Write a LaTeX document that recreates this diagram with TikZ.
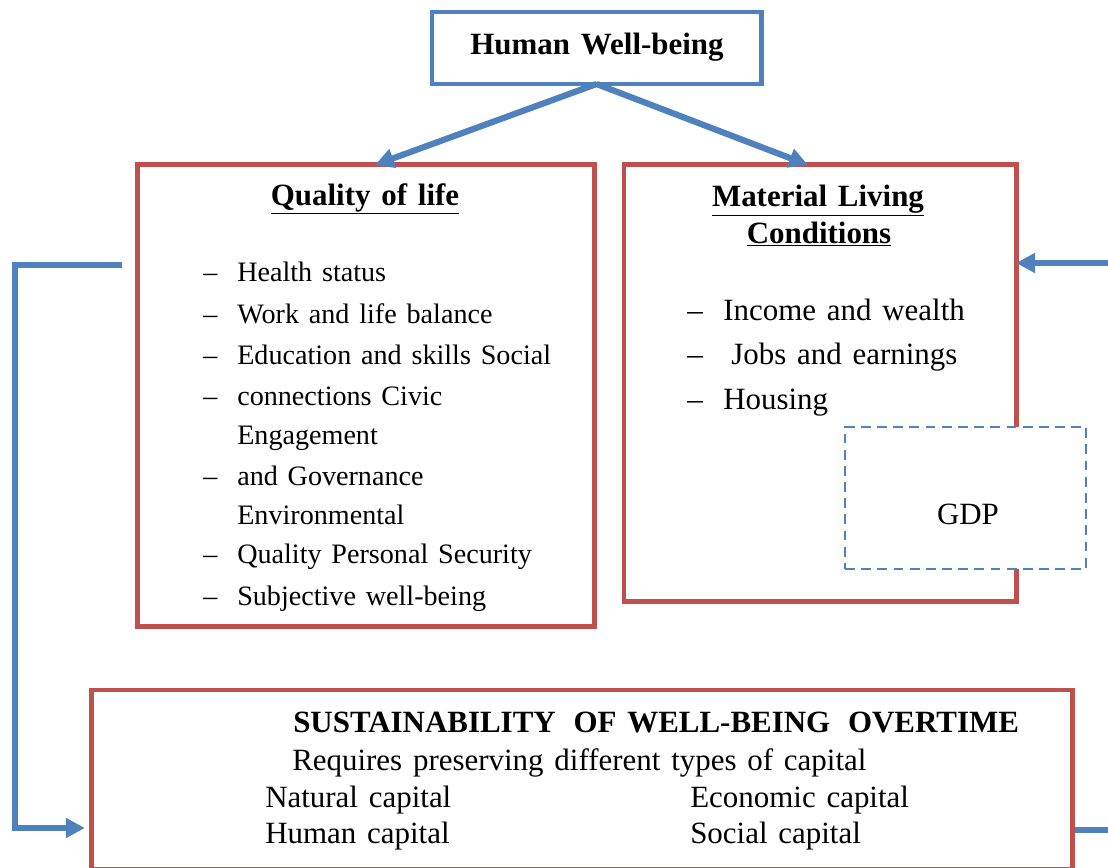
\documentclass[tikz,border=0pt]{standalone}
\usepackage{fontspec}
\setmainfont{Liberation Serif}[WordSpace=1.4]
\usetikzlibrary{positioning,arrows.meta}

\definecolor{boxblue}{RGB}{79,129,189}
\definecolor{boxred}{RGB}{192,80,77}

\newcommand{\fsbig}{\fontsize{22}{26}\selectfont}
\newcommand{\fsitem}{\fontsize{20}{24}\selectfont}

\tikzset{
    bluebox/.style={draw=boxblue, line width=3.5pt, inner sep=0pt, outer sep=0pt},
    redbox/.style={draw=boxred, line width=3.5pt, inner sep=0pt, outer sep=0pt},
    gdpbox/.style={draw=boxblue, fill=white, line width=2pt, dash pattern=on 7pt off 4.5pt, inner sep=0pt, outer sep=0pt},
    flowline/.style={draw=boxblue, line width=4.4pt},
    flow/.style={flowline, -{Triangle[length=13.5pt,width=13.5pt]}},
    label/.style={anchor=base, inner sep=0pt, font=\fsbig},
    item/.style={anchor=base west, inner sep=0pt, font=\fsitem},
    bigitem/.style={anchor=base west, inner sep=0pt, font=\fsbig},
}

\begin{document}
\begin{tikzpicture}[x=0.025cm, y=-0.025cm]

    \useasboundingbox (0,0) rectangle (1108,867);

    % the boxes
    \node[bluebox, minimum width=8.225cm, minimum height=1.8cm] (wellbeing) at (596.5,48) {};
    \node[label] (wellbeing-text) at (597,55) {\textbf{Human\ Well-being}};

    \node[redbox, minimum width=11.4cm, minimum height=11.525cm] (quality) at (366,395.5) {};
    \node[redbox, minimum width=9.8cm, minimum height=10.9cm] (material) at (820,383) {};
    \node[gdpbox, minimum width=6.025cm, minimum height=3.55cm] (gdp) at (965.5,498) {};
    \node[label] (gdp-text) at (968,524) {GDP};

    \node[redbox, minimum width=24.5cm, minimum height=4.475cm] (sustain) at (582,779.5) {};

    % quality of life
    \node[label] (quality-title) at (365,205) {\textbf{\underline{Quality of life}}};
    \foreach \i/\y/\t in {1/281/Health status,
                          2/323/Work and life balance,
                          3/364/Education and skills Social,
                          4/405/connections Civic,
                          5/444/Engagement,
                          6/485/and Governance,
                          7/524/Environmental,
                          8/563/Quality\ Personal Security,
                          9/605/Subjective well-being} {
        \node[item] (qitem-\i) at (237,\y) {\t};
    }
    \foreach \i/\y in {1/281,2/323,3/364,4/405,6/485,8/563,9/605} {
        \node[item] (qdash-\i) at (203,\y) {--};
    }

    % material living conditions
    \node[label] (material-title) at (818,206) {\textbf{\underline{Material Living}}};
    \node[label] (material-title2) at (819,243) {\textbf{\underline{Conditions}}};
    \foreach \i/\y/\x/\t in {1/320/723/Income\ and wealth,
                             2/364/731/Jobs and earnings,
                             3/409/723/Housing} {
        \node[bigitem] (mitem-\i) at (\x,\y) {\t};
        \node[bigitem] (mdash-\i) at (687,\y) {--};
    }

    % sustainability
    \node[bigitem] (sustain-title) at (293,732) {\textbf{SUSTAINABILITY\hspace{5pt} OF WELL-BEING\hspace{5pt} OVERTIME}};
    \node[bigitem] (sustain-sub) at (292,770) {Requires preserving different types of capital};
    \node[bigitem] (cap-natural) at (265,807) {Natural capital};
    \node[bigitem] (cap-economic) at (690,807) {Economic capital};
    \node[bigitem] (cap-human) at (265,843) {Human\ capital};
    \node[bigitem] (cap-social) at (690,843) {Social capital};

    % connectors
    \draw[flow] (wellbeing.south) -- ([xshift=0.225cm]quality.north);
    \draw[flow] (wellbeing.south) -- ([xshift=-0.3cm]material.north);

    \coordinate (qlink) at (122,265);
    \coordinate (lcorner) at (15,828);
    \draw[flow, shorten >=0.175cm] (qlink) -| (lcorner) -- (lcorner -| sustain.west);

    \coordinate (mlink) at (1108,263);
    \draw[flow] (mlink) -- (mlink -| material.east);

    \coordinate (slink) at (1108,830);
    \draw[flowline] ([xshift=0.075cm]sustain.east |- slink) -- (slink);

\end{tikzpicture}
\end{document}
